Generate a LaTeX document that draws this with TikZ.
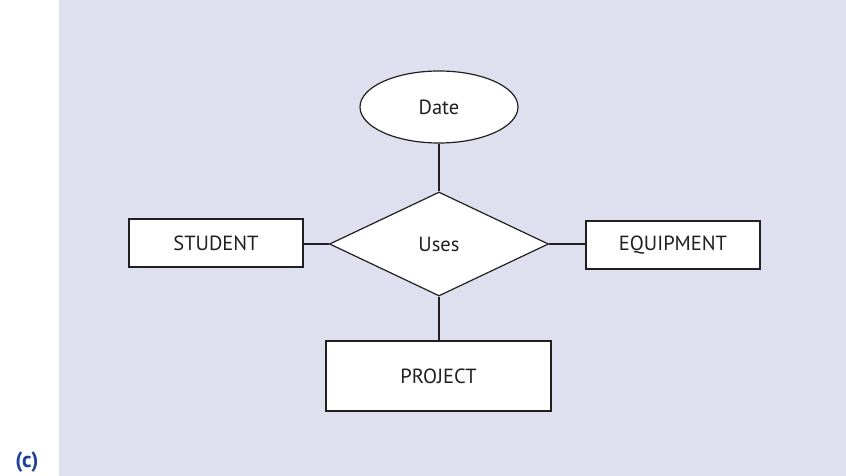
\documentclass[tikz,border=0pt]{standalone}
\usepackage{fontspec}
\setmainfont{PT Sans}
\usetikzlibrary{shapes.geometric}
\definecolor{panel}{RGB}{223,224,239}
\definecolor{labelblue}{RGB}{30,66,150}
\definecolor{ink}{RGB}{35,31,32}
\tikzset{
  lbl/.style={font=\fontsize{20.5}{24}\selectfont, text=ink},
  entity/.style={lbl, draw=ink, line width=1.2pt, fill=white, rectangle, inner sep=0pt},
  attr/.style={lbl, draw=ink, line width=1.2pt, fill=white, ellipse, inner sep=0pt},
  rel/.style={lbl, draw=ink, line width=1.2pt, fill=white, diamond, inner sep=0pt},
  link/.style={draw=ink, line width=2.6pt}
}
\begin{document}
\begin{tikzpicture}[x=1pt,y=-1pt]
\useasboundingbox (0,0) rectangle (846,476);
\fill[panel] (59,0) rectangle (846,476);
\node[attr, minimum width=158pt, minimum height=72pt] (date) at (439,107) {Date};
\node[rel, minimum width=219pt, minimum height=104pt] (uses) at (439,244) {Uses};
\node[entity, minimum width=174pt, minimum height=48pt] (student) at (216,243) {STUDENT};
\node[entity, minimum width=174pt, minimum height=48pt] (equip) at (673,245) {EQUIPMENT};
\node[entity, minimum width=225pt, minimum height=70pt] (project) at (438.5,376) {PROJECT};
\draw[link] (date.south) -- (uses.north);
\draw[link] (student.east |- uses.west) -- (uses.west);
\draw[link] (uses.east) -- (equip.west |- uses.east);
\draw[link] (uses.south) -- (project.north -| uses.south);
\node[font=\bfseries\fontsize{22}{26}\selectfont, text=labelblue] (lab) at (27,462) {(c)};
\end{tikzpicture}
\end{document}
